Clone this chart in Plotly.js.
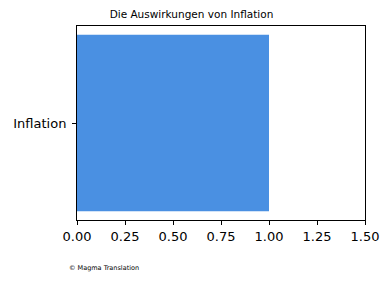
<!DOCTYPE html>
<html>
<head>
<meta charset="utf-8">
<script src="https://cdn.plot.ly/plotly-3.0.1.min.js"></script>
<style>html,body{margin:0;padding:0;background:#fff;}#chart{width:390px;height:282px;}</style>
</head>
<body>
<div id="chart"></div>
<script>
const categories = ["Inflation"];
const values = [1.0];
const xTicks = [0, 0.25, 0.5, 0.75, 1.0, 1.25, 1.5];
const xTickLabels = ["0.00", "0.25", "0.50", "0.75", "1.00", "1.25", "1.50"];
const titleText = "Die Auswirkungen von Inflation";
const footnoteText = "© Magma Translation";

const trace = {
  type: "bar",
  orientation: "h",
  x: values,
  y: categories,
  width: 0.8,
  marker: {color: "#4a90e2"},
  hoverinfo: "none"
};

const axisCommon = {
  showgrid: false,
  zeroline: false,
  showline: true,
  mirror: true,
  linecolor: "#000",
  linewidth: 1,
  ticks: "outside",
  ticklen: 4,
  tickwidth: 1,
  tickcolor: "#000",
  tickfont: {family: "DejaVu Sans", size: 13, color: "#000"}
};

const layout = {
  width: 390,
  height: 282,
  margin: {l: 77, r: 25, t: 26, b: 62},
  paper_bgcolor: "#fff",
  plot_bgcolor: "#fff",
  showlegend: false,
  title: {
    text: titleText,
    font: {family: "DejaVu Sans", size: 10.5, color: "#000"},
    xref: "container", x: 0.491, xanchor: "center",
    yref: "container", y: 1 - 14/282, yanchor: "middle"
  },
  xaxis: Object.assign({}, axisCommon, {
    range: [0, 1.5],
    tickvals: xTicks,
    ticktext: xTickLabels
  }),
  yaxis: Object.assign({}, axisCommon, {
    range: [-0.44, 0.44],
    type: "category",
    ticklabelstandoff: 3
  }),
  annotations: [{
    text: footnoteText,
    xref: "paper", yref: "paper",
    x: (67 - 77) / 288, y: (220 - 268) / 194,
    xanchor: "left", yanchor: "middle",
    showarrow: false,
    font: {family: "DejaVu Sans", size: 6.5, color: "#000"}
  }]
};

Plotly.newPlot("chart", [trace], layout, {staticPlot: true, displayModeBar: false});
</script>
</body>
</html>
